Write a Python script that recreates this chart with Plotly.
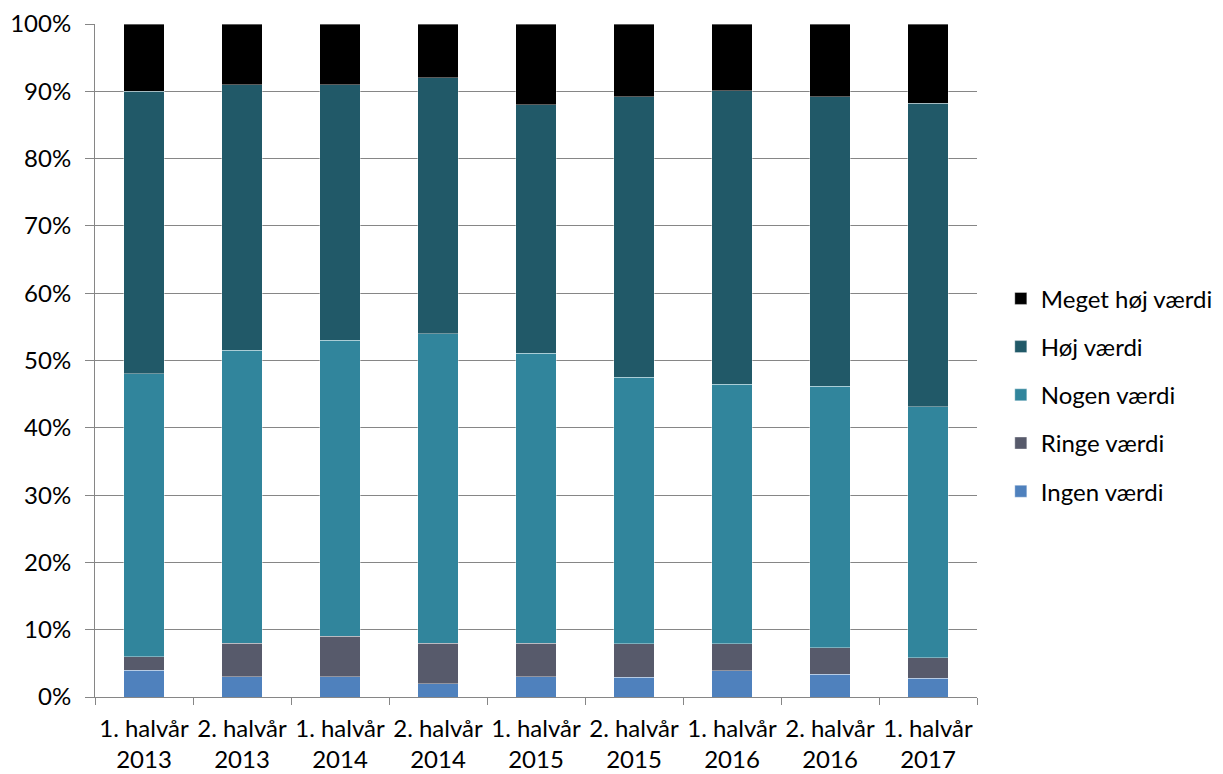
import plotly.graph_objects as go

categories = ["1. halvår<br>2013", "2. halvår<br>2013", "1. halvår<br>2014", "2. halvår<br>2014",
              "1. halvår<br>2015", "2. halvår<br>2015", "1. halvår<br>2016", "2. halvår<br>2016",
              "1. halvår<br>2017"]

ingen = [4, 3, 3, 2, 3, 2.9, 3.9, 3.4, 2.8]
ringe = [2, 5, 6, 6, 5, 5, 4, 3.9, 3]
nogen = [42, 43.5, 44, 46, 43.1, 39.6, 38.6, 38.9, 37.3]
hoj = [42, 39.5, 38, 38, 36.9, 41.7, 43.6, 43, 45.1]
meget = [10, 9, 9, 8, 12, 10.8, 9.9, 10.8, 11.8]

series = [
    ("Ingen værdi", ingen, "#4F81BD"),
    ("Ringe værdi", ringe, "#575A6B"),
    ("Nogen værdi", nogen, "#31859C"),
    ("Høj værdi", hoj, "#215968"),
    ("Meget høj værdi", meget, "#000000"),
]

font_family = "Lato, 'Open Sans', 'Liberation Sans', sans-serif"

fig = go.Figure()
n = len(series)
for i, (name, vals, col) in enumerate(series):
    fig.add_trace(go.Bar(
        x=categories, y=vals, name=name, legendgroup=name,
        legendrank=n - i,
        marker=dict(color=col, line=dict(color="rgba(255,255,255,0.45)", width=0.8)),
    ))

fig.update_layout(
    barmode="stack",
    bargap=0.59,
    width=1223, height=774,
    margin=dict(l=87, r=254, t=16, b=85, autoexpand=False),
    plot_bgcolor="white",
    paper_bgcolor="white",
    font=dict(family=font_family, size=24, color="black"),
    legend=dict(
        traceorder="grouped",
        tracegroupgap=14,
        x=1.027, y=0.449, xanchor="left", yanchor="middle",
        font=dict(size=24),
        itemwidth=30,
    ),
    showlegend=True,
)

fig.update_yaxes(
    range=[0, 100],
    dtick=10,
    ticksuffix="%",
    showgrid=True, gridcolor="#868686", gridwidth=1,
    showline=True, linecolor="#868686", linewidth=1,
    ticks="outside", ticklen=9, tickcolor="#868686",
    ticklabelstandoff=9,
    zeroline=False,
    tickfont=dict(size=24),
)
fig.update_xaxes(
    showline=True, linecolor="#868686", linewidth=1,
    ticks="outside", ticklen=7, tickcolor="#868686",
    tickson="boundaries",
    ticklabelstandoff=10,
    tickfont=dict(size=24),
    tickangle=0,
)

fig.write_html("out.html")
